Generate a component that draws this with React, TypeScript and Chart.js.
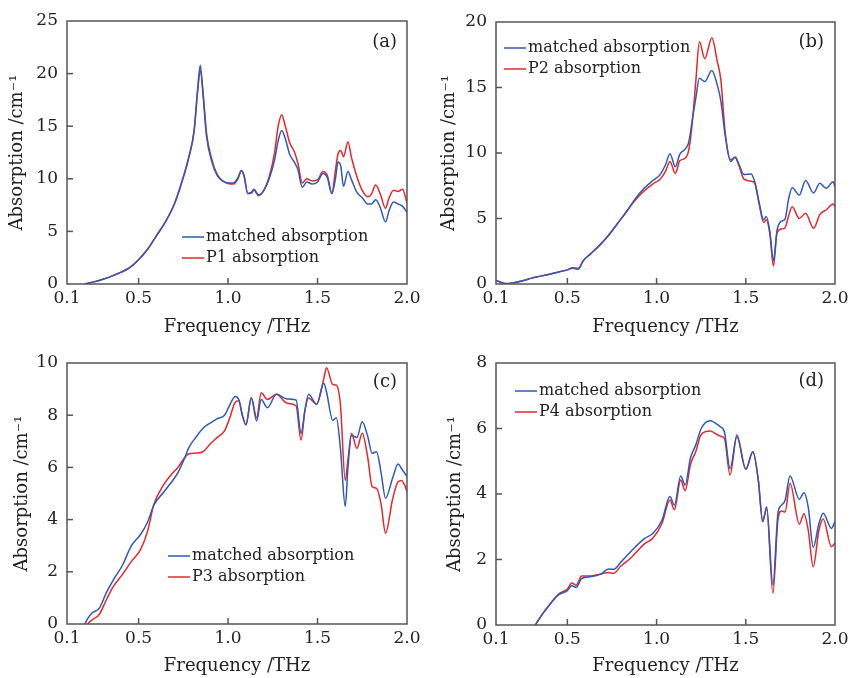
import React, { useEffect, useRef } from 'react';
import { Chart, registerables } from 'chart.js';
Chart.register(...registerables);

// ---------- data ----------
const xTickValues = [0.1, 0.5, 1.0, 1.5, 2.0];

// panel (a)
const freqA = [0.20, 0.25, 0.30, 0.35, 0.40, 0.45, 0.50, 0.55, 0.60, 0.65, 0.70, 0.74, 0.78, 0.81, 0.83, 0.845, 0.86, 0.88, 0.91, 0.94, 0.97, 1.00, 1.03, 1.055, 1.075, 1.09, 1.11, 1.13, 1.145, 1.17, 1.20, 1.23, 1.26, 1.28, 1.30, 1.32, 1.345, 1.37, 1.39, 1.415, 1.44, 1.47, 1.50, 1.53, 1.555, 1.58, 1.60, 1.615, 1.63, 1.645, 1.67, 1.69, 1.72, 1.75, 1.78, 1.80, 1.825, 1.85, 1.88, 1.90, 1.925, 1.95, 1.975, 2.00];
const matchedA = [0, 0.2, 0.45, 0.75, 1.1, 1.55, 2.3, 3.3, 4.6, 5.9, 7.6, 9.6, 12.0, 14.5, 18.5, 20.8, 18.0, 14.0, 11.6, 10.3, 9.8, 9.6, 9.6, 10.1, 10.8, 10.2, 8.6, 8.7, 9.0, 8.45, 8.9, 10.0, 11.8, 13.6, 14.6, 13.8, 12.3, 11.6, 10.9, 9.2, 9.7, 9.5, 9.7, 10.5, 10.1, 8.6, 10.0, 11.6, 11.2, 9.3, 10.7, 9.9, 8.7, 8.2, 7.6, 7.6, 8.0, 7.3, 5.9, 7.0, 7.8, 7.6, 7.4, 6.8];
const p1A = [0, 0.2, 0.45, 0.75, 1.1, 1.55, 2.3, 3.3, 4.6, 5.9, 7.6, 9.6, 12.0, 14.5, 18.3, 20.3, 18.3, 14.3, 11.8, 10.4, 9.8, 9.55, 9.5, 10.0, 10.8, 10.3, 8.6, 8.65, 8.9, 8.4, 8.9, 10.2, 12.5, 15.0, 16.1, 15.0, 13.4, 12.6, 11.5, 9.6, 10.0, 9.8, 9.9, 10.7, 10.3, 8.6, 10.8, 12.4, 12.7, 12.1, 13.5, 12.0, 10.2, 8.9, 8.3, 8.5, 9.4, 8.6, 7.2, 8.2, 8.9, 8.8, 9.0, 7.7];

// panel (b)
const freqB = [0.10, 0.13, 0.16, 0.20, 0.25, 0.30, 0.35, 0.40, 0.45, 0.50, 0.53, 0.56, 0.59, 0.63, 0.68, 0.73, 0.78, 0.83, 0.88, 0.93, 0.98, 1.02, 1.05, 1.075, 1.105, 1.13, 1.16, 1.18, 1.20, 1.22, 1.24, 1.27, 1.31, 1.34, 1.36, 1.385, 1.415, 1.44, 1.46, 1.49, 1.53, 1.55, 1.575, 1.60, 1.615, 1.635, 1.655, 1.675, 1.70, 1.72, 1.74, 1.76, 1.80, 1.835, 1.88, 1.915, 1.95, 1.99, 2.00];
const matchedB = [0.28, 0.12, 0.03, 0.1, 0.25, 0.45, 0.6, 0.75, 0.92, 1.08, 1.25, 1.18, 1.8, 2.3, 2.95, 3.7, 4.6, 5.5, 6.5, 7.3, 7.9, 8.35, 9.1, 9.95, 8.95, 9.9, 10.3, 10.8, 12.5, 14.2, 15.7, 15.45, 16.3, 15.2, 14.0, 11.3, 9.35, 9.7, 9.2, 8.35, 8.4, 7.8, 6.2, 4.9, 5.15, 4.0, 1.8, 4.1, 4.8, 4.95, 6.5, 7.35, 6.8, 7.9, 6.95, 7.7, 7.3, 7.8, 7.4];
const p2B = [0.25, 0.1, 0.02, 0.1, 0.25, 0.45, 0.6, 0.75, 0.92, 1.08, 1.2, 1.12, 1.8, 2.3, 2.95, 3.7, 4.6, 5.5, 6.4, 7.1, 7.65, 8.0, 8.6, 9.35, 8.45, 9.4, 9.6, 10.2, 12.3, 15.5, 18.5, 17.2, 18.8, 17.0, 15.6, 11.5, 9.5, 9.65, 9.1, 8.0, 7.85, 7.7, 6.1, 4.7, 4.9, 3.8, 1.37, 3.9, 4.2, 4.3, 5.2, 5.9, 5.0, 5.4, 4.25, 5.3, 5.65, 6.1, 5.9];

// panel (c)
const freqC = [0.20, 0.215, 0.24, 0.28, 0.32, 0.36, 0.41, 0.46, 0.51, 0.55, 0.585, 0.64, 0.68, 0.72, 0.76, 0.78, 0.82, 0.86, 0.90, 0.94, 0.98, 1.01, 1.04, 1.06, 1.08, 1.10, 1.13, 1.16, 1.185, 1.22, 1.27, 1.33, 1.38, 1.408, 1.43, 1.45, 1.495, 1.535, 1.55, 1.585, 1.605, 1.628, 1.655, 1.67, 1.69, 1.72, 1.75, 1.78, 1.805, 1.83, 1.855, 1.88, 1.92, 1.95, 1.97, 2.00];
const matchedC = [0, 0.2, 0.42, 0.6, 1.2, 1.7, 2.25, 3.0, 3.42, 3.9, 4.55, 5.05, 5.4, 5.8, 6.4, 6.75, 7.15, 7.5, 7.7, 7.87, 8.0, 8.4, 8.72, 8.6, 8.0, 7.63, 8.67, 7.78, 8.6, 8.29, 8.8, 8.62, 8.58, 7.31, 8.2, 8.8, 8.42, 9.22, 8.9, 7.8, 7.9, 6.73, 4.5, 6.0, 7.22, 7.15, 7.75, 7.2, 6.54, 6.6, 5.8, 4.82, 5.6, 6.13, 5.95, 5.65];
const p3C = [null, 0, 0.16, 0.36, 0.93, 1.45, 1.9, 2.4, 2.84, 3.55, 4.57, 5.33, 5.7, 6.0, 6.4, 6.52, 6.55, 6.6, 6.9, 7.15, 7.4, 7.9, 8.5, 8.55, 8.0, 7.63, 8.67, 7.9, 8.86, 8.6, 8.8, 8.46, 8.36, 7.05, 8.2, 8.66, 8.42, 9.4, 9.82, 9.18, 9.15, 8.4, 5.5, 6.3, 7.3, 6.73, 7.31, 6.4, 5.27, 5.2, 4.6, 3.48, 4.8, 5.45, 5.5, 5.1];

// panel (d)
const freqD = [0.32, 0.36, 0.40, 0.45, 0.50, 0.525, 0.55, 0.58, 0.63, 0.69, 0.73, 0.76, 0.80, 0.86, 0.93, 0.98, 1.03, 1.075, 1.10, 1.135, 1.16, 1.19, 1.22, 1.25, 1.30, 1.355, 1.38, 1.412, 1.45, 1.50, 1.54, 1.57, 1.595, 1.617, 1.652, 1.68, 1.70, 1.72, 1.748, 1.80, 1.826, 1.85, 1.878, 1.91, 1.934, 1.98, 2.00];
const matchedD = [0, 0.33, 0.62, 0.92, 1.05, 1.2, 1.15, 1.42, 1.47, 1.56, 1.71, 1.7, 1.92, 2.27, 2.63, 2.8, 3.2, 3.92, 3.66, 4.55, 4.27, 5.1, 5.5, 6.0, 6.24, 6.06, 5.9, 4.78, 5.75, 4.76, 5.29, 4.43, 3.16, 3.61, 1.22, 3.4, 3.66, 3.8, 4.55, 3.84, 4.04, 3.6, 2.37, 3.1, 3.41, 2.95, 3.16];
const p4D = [0, 0.33, 0.62, 0.94, 1.1, 1.28, 1.22, 1.5, 1.5, 1.56, 1.6, 1.58, 1.8, 2.07, 2.47, 2.66, 3.1, 3.82, 3.52, 4.43, 4.1, 4.9, 5.3, 5.82, 5.92, 5.77, 5.7, 4.58, 5.8, 4.76, 5.29, 4.43, 3.16, 3.55, 0.97, 3.2, 3.48, 3.45, 4.33, 3.08, 3.4, 2.9, 1.78, 2.9, 3.24, 2.39, 2.5];

const matchedLabel = 'matched absorption';
const BLUE = '#2b5bb8';
const RED = '#e8262b';
const FONT = "'DejaVu Serif', 'Liberation Serif', serif";

type PanelCfg = {
  tag: string;
  freq: number[];
  matched: (number | null)[];
  other: (number | null)[];
  otherLabel: string;
  yMax: number;
  yStep: number;
  left: number;
  top: number;
  yWidth: number;
  padTop: number;
  padRight: number;
  xHeight: number;
  yTitlePad: number;
  legendX: number;
  legendY: number;
  tagRight: number;
  tagY: number;
};

const panels: PanelCfg[] = [
  { tag: '(a)', freq: freqA, matched: matchedA, other: p1A, otherLabel: 'P1 absorption', yMax: 25, yStep: 5,
    left: 0, top: 0, yWidth: 67, padTop: 21, padRight: 18, xHeight: 55, yTitlePad: 7, legendX: 182, legendY: 237, tagRight: 397, tagY: 42 },
  { tag: '(b)', freq: freqB, matched: matchedB, other: p2B, otherLabel: 'P2 absorption', yMax: 20, yStep: 5,
    left: 425, top: 0, yWidth: 71, padTop: 22, padRight: 15, xHeight: 55, yTitlePad: 14, legendX: 79, legendY: 48, tagRight: 399, tagY: 42 },
  { tag: '(c)', freq: freqC, matched: matchedC, other: p3C, otherLabel: 'P3 absorption', yMax: 10, yStep: 2,
    left: 0, top: 339, yWidth: 67, padTop: 24, padRight: 18, xHeight: 54, yTitlePad: 12, legendX: 168, legendY: 217, tagRight: 397, tagY: 43 },
  { tag: '(d)', freq: freqD, matched: matchedD, other: p4D, otherLabel: 'P4 absorption', yMax: 8, yStep: 2,
    left: 425, top: 339, yWidth: 71, padTop: 24, padRight: 15, xHeight: 53, yTitlePad: 20, legendX: 90, legendY: 52, tagRight: 399, tagY: 42 },
];

const framePlugin = {
  id: 'frame',
  afterDatasetsDraw(chart: any, _args: any, opts: any) {
    const { ctx, chartArea: a, scales } = chart;
    ctx.save();
    ctx.strokeStyle = '#555';
    ctx.lineWidth = 1.5;
    ctx.strokeRect(a.left, a.top, a.right - a.left, a.bottom - a.top);
    // inward ticks
    ctx.lineWidth = 1.5;
    const tl = 6;
    scales.x.ticks.forEach((t: any) => {
      const px = scales.x.getPixelForValue(t.value);
      if (px > a.left + 2 && px < a.right - 2) {
        ctx.beginPath();
        ctx.moveTo(px, a.bottom);
        ctx.lineTo(px, a.bottom - tl);
        ctx.stroke();
      }
    });
    scales.y.ticks.forEach((t: any) => {
      const py = scales.y.getPixelForValue(t.value);
      if (py > a.top + 2 && py < a.bottom - 2) {
        ctx.beginPath();
        ctx.moveTo(a.left, py);
        ctx.lineTo(a.left + tl, py);
        ctx.stroke();
      }
    });
    // legend
    ctx.font = `16px ${FONT}`;
    ctx.textBaseline = 'middle';
    ctx.textAlign = 'left';
    chart.data.datasets.forEach((ds: any, i: number) => {
      const y = opts.legendY + i * 21;
      ctx.strokeStyle = ds.borderColor;
      ctx.lineWidth = 1.5;
      ctx.beginPath();
      ctx.moveTo(opts.legendX, y);
      ctx.lineTo(opts.legendX + 22, y);
      ctx.stroke();
      ctx.fillStyle = '#222';
      ctx.fillText(ds.label, opts.legendX + 24, y);
    });
    // panel tag
    ctx.font = `18px ${FONT}`;
    ctx.textAlign = 'right';
    ctx.fillStyle = '#222';
    ctx.fillText(opts.tag, opts.tagRight, opts.tagY);
    ctx.restore();
  },
};

function Panel({ cfg }: { cfg: PanelCfg }) {
  const ref = useRef<HTMLCanvasElement>(null);
  useEffect(() => {
    if (!ref.current) return;
    const chart = new Chart(ref.current, {
      type: 'line',
      data: {
        datasets: [
          {
            label: matchedLabel,
            data: cfg.freq.map((f, i) => ({ x: f, y: cfg.matched[i] })) as any,
            borderColor: BLUE,
            borderWidth: 1.5,
            pointRadius: 0,
            tension: 0.4,
            cubicInterpolationMode: 'monotone',
            fill: false,
          },
          {
            label: cfg.otherLabel,
            data: cfg.freq.map((f, i) => ({ x: f, y: cfg.other[i] })) as any,
            borderColor: RED,
            borderWidth: 1.5,
            pointRadius: 0,
            tension: 0.4,
            cubicInterpolationMode: 'monotone',
            fill: false,
          },
        ],
      },
      options: {
        responsive: false,
        animation: false,
        devicePixelRatio: 1,
        events: [],
        layout: { padding: { left: 0, top: cfg.padTop, right: cfg.padRight, bottom: 0 } },
        plugins: {
          legend: { display: false },
          tooltip: { enabled: false },
          frame: { legendX: cfg.legendX, legendY: cfg.legendY, tag: cfg.tag, tagRight: cfg.tagRight, tagY: cfg.tagY },
        } as any,
        scales: {
          x: {
            type: 'linear',
            min: 0.1,
            max: 2.0,
            grid: { display: false, drawTicks: false },
            border: { display: false },
            afterBuildTicks: (s: any) => {
              s.ticks = xTickValues.map((v) => ({ value: v }));
            },
            afterFit: (s: any) => {
              s.height = cfg.xHeight;
              s.paddingLeft = 0;
              s.paddingRight = 0;
            },
            ticks: {
              padding: 4,
              color: '#222',
              font: { family: FONT, size: 17 },
              maxRotation: 0,
              autoSkip: false,
              callback: (v: any) => Number(v).toFixed(1),
            },
            title: {
              display: true,
              text: 'Frequency /THz',
              color: '#222',
              font: { family: FONT, size: 18 },
              padding: { top: 0, bottom: 1 },
            },
          },
          y: {
            type: 'linear',
            min: 0,
            max: cfg.yMax,
            grid: { display: false, drawTicks: false },
            border: { display: false },
            afterFit: (s: any) => {
              s.width = cfg.yWidth;
              s.paddingTop = 0;
              s.paddingBottom = 0;
            },
            ticks: {
              stepSize: cfg.yStep,
              padding: 9,
              color: '#222',
              font: { family: FONT, size: 17 },
              callback: (v: any) => String(v),
            },
            title: {
              display: true,
              text: 'Absorption /cm\u207B\u00B9',
              color: '#222',
              font: { family: FONT, size: 18 },
              padding: { top: cfg.yTitlePad, bottom: 0 },
            },
          },
        },
      },
      plugins: [framePlugin],
    });
    return () => chart.destroy();
  }, [cfg]);
  return (
    <canvas
      ref={ref}
      width={425}
      height={339}
      style={{ position: 'absolute', left: cfg.left, top: cfg.top, width: 425, height: 339 }}
    />
  );
}

export default function App() {
  return (
    <div style={{ position: 'absolute', left: 0, top: 0, width: 850, height: 678, background: '#fff' }}>
      {panels.map((p) => (
        <Panel key={p.tag} cfg={p} />
      ))}
    </div>
  );
}
